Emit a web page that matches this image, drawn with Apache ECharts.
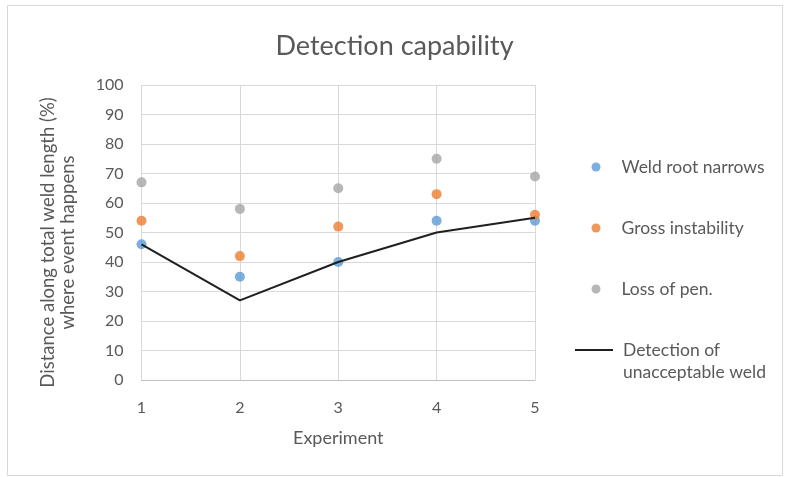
<!DOCTYPE html>
<html>
<head>
<meta charset="utf-8">
<script src="https://cdn.jsdelivr.net/npm/echarts@6/dist/echarts.min.js"></script>
<style>
  html, body { margin: 0; padding: 0; background: #ffffff; }
  #chart { width: 789px; height: 477px; }
</style>
</head>
<body>
<div id="chart"></div>
<script>
// Experiment numbers on the x axis
const experiments = [1, 2, 3, 4, 5];
// Position along the weld (% of total length) where each event happens
const weldRootNarrows = [46, 35, 40, 54, 54];
const grossInstability = [54, 42, 52, 63, 56];
const lossOfPen = [67, 58, 65, 75, 69];
const detection = [46, 27, 40, 50, 55];

const seriesNames = ['Weld root narrows', 'Gross instability', 'Loss of pen.', 'Detection of unacceptable weld'];
const lineLegendLines = ['Detection of', 'unacceptable weld'];
const yTicks = { min: 0, max: 100, step: 10 };

const FONT = 'Lato';
const TEXT = '#595959';

const pairs = arr => experiments.map((x, i) => [x, arr[i]]);

const chart = echarts.init(document.getElementById('chart'), null, { renderer: 'canvas' });

const legendText = {
  fontFamily: FONT, fontSize: 17.5, color: TEXT, lineHeight: 22,
  rich: {
    g: { width: 16 },
    h: { width: 5 },
    t: { fontFamily: FONT, fontSize: 17.5, color: TEXT, lineHeight: 22 }
  }
};

// one legend block per entry so each sits at its own row
function dotLegend(name, top) {
  return {
    data: [{ name: name, icon: 'circle' }],
    left: 591.5,
    top: top,
    padding: 0,
    itemWidth: 9,
    itemHeight: 9,
    selectedMode: false,
    formatter: n => '{g|}{t|' + n + '}',
    textStyle: legendText
  };
}

chart.setOption({
  backgroundColor: '#ffffff',
  animation: false,
  title: {
    text: 'Detection capability',
    left: 'center',
    top: 28,
    textStyle: { fontFamily: FONT, fontSize: 27, fontWeight: 'normal', color: TEXT }
  },
  graphic: [{
    type: 'rect',
    shape: { x: 7.5, y: 5.5, width: 775, height: 470 },
    style: { fill: 'none', stroke: '#d9d9d9', lineWidth: 1 },
    silent: true
  }],
  legend: [
    dotLegend(seriesNames[0], 156),
    dotLegend(seriesNames[1], 217),
    dotLegend(seriesNames[2], 278),
    {
      data: [{ name: seriesNames[3], icon: 'rect' }],
      left: 575,
      top: 317,
      padding: 0,
      itemWidth: 38,
      itemHeight: 2,
      selectedMode: false,
      formatter: () => '{h|}\n{h|}{t|' + lineLegendLines[0] + '}\n{h|}{t|' + lineLegendLines[1] + '}',
      textStyle: legendText
    }
  ],
  grid: { left: 141.5, right: 254, top: 85, bottom: 97 },
  xAxis: {
    type: 'value',
    min: experiments[0],
    max: experiments[experiments.length - 1],
    interval: 1,
    name: 'Experiment',
    nameLocation: 'middle',
    nameGap: 49,
    nameTextStyle: { fontFamily: FONT, fontSize: 18, color: TEXT },
    axisLine: { lineStyle: { color: '#bfbfbf', width: 1 } },
    axisTick: { show: false },
    axisLabel: { fontFamily: FONT, fontSize: 16, color: TEXT, margin: 20 },
    splitLine: { show: true, lineStyle: { color: '#d9d9d9', width: 1 } }
  },
  yAxis: {
    type: 'value',
    min: yTicks.min,
    max: yTicks.max,
    interval: yTicks.step,
    name: 'Distance along total weld length (%)\nwhere event happens',
    nameLocation: 'middle',
    nameGap: 63,
    nameTextStyle: { fontFamily: FONT, fontSize: 18.5, color: TEXT, lineHeight: 20, padding: [0, 0, 0, -20] },
    axisLine: { show: false },
    axisTick: { show: false },
    axisLabel: { fontFamily: FONT, fontSize: 16, color: TEXT, margin: 18 },
    splitLine: { show: true, lineStyle: { color: '#d9d9d9', width: 1 } }
  },
  series: [
    {
      name: seriesNames[0], type: 'scatter', data: pairs(weldRootNarrows),
      symbolSize: 10, itemStyle: { color: '#5b9bd5' }, z: 3
    },
    {
      name: seriesNames[1], type: 'scatter', data: pairs(grossInstability),
      symbolSize: 10, itemStyle: { color: '#ed7d31' }, z: 4
    },
    {
      name: seriesNames[2], type: 'scatter', data: pairs(lossOfPen),
      symbolSize: 10, itemStyle: { color: '#a5a5a5' }, z: 3
    },
    {
      name: seriesNames[3], type: 'line', data: pairs(detection),
      symbol: 'none', lineStyle: { color: '#1f1f1f', width: 2 },
      itemStyle: { color: '#1f1f1f' }, z: 5
    }
  ]
});
</script>
</body>
</html>
